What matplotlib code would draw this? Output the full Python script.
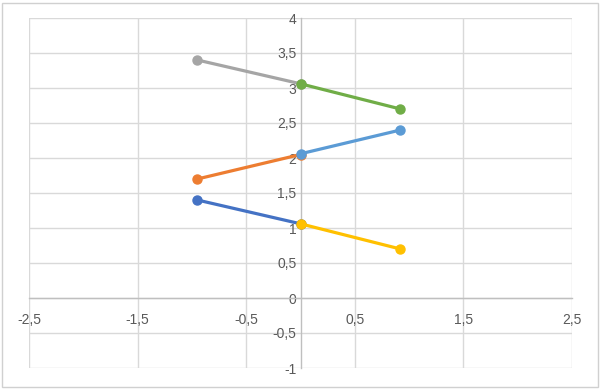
import numpy as np
import matplotlib.pyplot as plt
from matplotlib.ticker import FuncFormatter, MultipleLocator
from matplotlib.patches import Rectangle

# Datos de las series (x, y)
x_izq = [-0.95, 0.0]
x_der = [0.0, 0.92]

y_azul = [1.40, 1.06]       # abajo izquierda
y_amarillo = [1.06, 0.70]   # abajo derecha
y_naranja = [1.70, 2.05]    # centro izquierda
y_celeste = [2.06, 2.40]    # centro derecha
y_gris = [3.40, 3.06]       # arriba izquierda
y_verde = [3.06, 2.70]      # arriba derecha

x_ticks = [-2.5, -1.5, -0.5, 0.5, 1.5, 2.5]

plt.rcParams['font.family'] = ['Liberation Sans', 'DejaVu Sans']

fig = plt.figure(figsize=(6, 3.9), dpi=100)
ax = fig.add_axes([29/600, 1 - 368/390, 543/600, 350/390])

# Borde exterior del gráfico
fig.patches.append(Rectangle((2/600, 3/390), 596/600, 384/390, transform=fig.transFigure,
                             fill=False, edgecolor='#D0D0D0', linewidth=1))

series = [
    (x_izq, y_azul, '#4472C4'),
    (x_der, y_amarillo, '#FFC000'),
    (x_izq, y_naranja, '#ED7D31'),
    (x_der, y_celeste, '#5B9BD5'),
    (x_izq, y_gris, '#A5A5A5'),
    (x_der, y_verde, '#70AD47'),
]
for xs, ys, c in series:
    ax.plot(xs, ys, color=c, lw=2.3, marker='o', ms=6.5, zorder=3)

ax.set_xlim(-2.5, 2.5)
ax.set_ylim(-1, 4)
ax.set_xticks(x_ticks)
ax.yaxis.set_major_locator(MultipleLocator(0.5))

fmt = FuncFormatter(lambda v, p: f'{v:g}'.replace('.', ','))
ax.xaxis.set_major_formatter(fmt)
ax.yaxis.set_major_formatter(fmt)

ax.grid(True, color='#D9D9D9', lw=1)
ax.set_axisbelow(True)

for s in ['top', 'right']:
    ax.spines[s].set_visible(False)
ax.spines['left'].set_position(('data', 0))
ax.spines['bottom'].set_position(('data', 0))
ax.spines['left'].set_color('#BFBFBF')
ax.spines['bottom'].set_color('#BFBFBF')
ax.spines['left'].set_linewidth(1)
ax.spines['bottom'].set_linewidth(1)

ax.tick_params(length=0, labelsize=10, labelcolor='#595959')
ax.tick_params(axis='x', pad=11)
ax.tick_params(axis='y', pad=3)

fig.savefig('out.png', dpi=100)
